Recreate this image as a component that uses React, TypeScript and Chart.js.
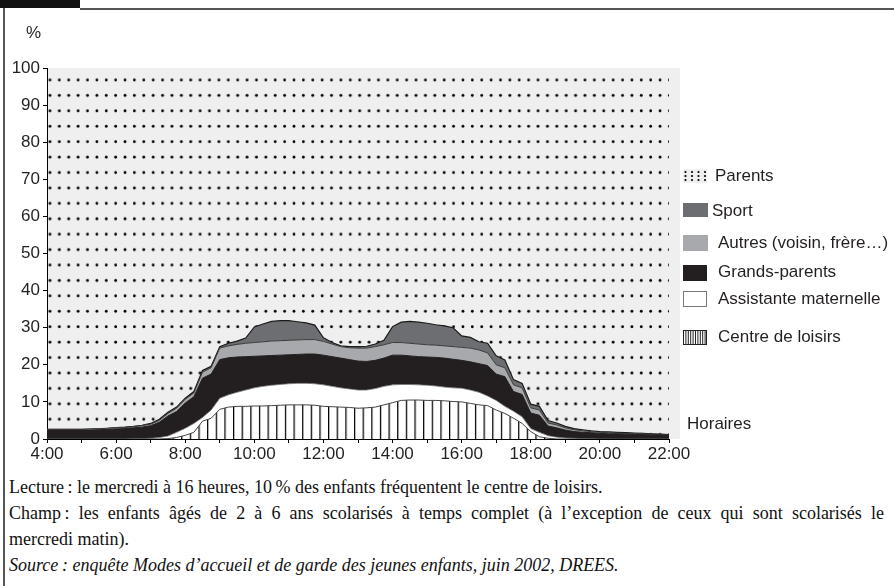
import React, { useEffect, useRef } from 'react';
import { Chart, registerables } from 'chart.js';

Chart.register(...registerables);

// ---- DATA ----
const times = [
  "4:00","4:15","4:30","4:45","5:00","5:15","5:30","5:45","6:00","6:15","6:30","6:45",
  "7:00","7:15","7:30","7:45","8:00","8:15","8:30","8:45","9:00","9:15","9:30","9:45",
  "10:00","10:15","10:30","10:45","11:00","11:15","11:30","11:45","12:00","12:15","12:30","12:45",
  "13:00","13:15","13:30","13:45","14:00","14:15","14:30","14:45","15:00","15:15","15:30","15:45",
  "16:00","16:15","16:30","16:45","17:00","17:15","17:30","17:45","18:00","18:15","18:30","18:45",
  "19:00","19:15","19:30","19:45","20:00","20:15","20:30","20:45","21:00","21:15","21:30","21:45",
  "22:00"
];

const xTickLabels = ["4:00","6:00","8:00","10:00","12:00","14:00","16:00","18:00","20:00","22:00"];

const centreDeLoisirs = [
  0,0,0,0,0,0,0,0,0,0,0,0,
  0,0,0.1,0.4,1.0,1.8,4.8,5.6,8.0,8.6,8.8,8.8,
  8.9,8.9,9.0,9.1,9.2,9.2,9.2,9.1,8.8,8.7,8.6,8.5,
  8.3,8.4,8.6,9.2,9.8,10.4,10.5,10.5,10.4,10.4,10.3,10.1,
  10.0,9.6,9.2,9.0,7.8,6.9,5.6,4.2,2.0,0.6,0.2,0,
  0,0,0,0,0,0,0,0,0,0,0,0,
  0
];

const assistanteMaternelle = [
  0,0,0,0,0,0,0,0,0,0,0.1,0.1,
  0.2,0.4,0.7,1.4,1.9,2.4,1.0,2.2,3.0,3.3,3.8,4.4,
  4.9,5.3,5.5,5.6,5.7,5.8,5.8,5.8,5.8,5.5,5.2,5.0,
  4.9,4.8,5.0,5.0,4.8,4.3,4.2,4.1,4.1,3.9,3.7,3.7,
  3.7,3.6,3.4,2.6,2.6,1.9,1.9,1.8,0.8,1.2,0.7,0.5,
  0.3,0.2,0.1,0.1,0,0,0,0,0,0,0,0,
  0
];

const grandsParents = [
  2.4,2.4,2.4,2.4,2.4,2.4,2.5,2.6,2.7,2.8,2.9,3.1,
  3.4,4.1,5.4,5.6,6.8,7.2,10.6,9.7,10.4,10.0,9.5,9.0,
  8.5,8.2,8.0,7.9,7.8,7.8,7.9,8.0,8.0,8.0,8.0,7.9,
  7.8,7.7,7.6,7.6,8.0,7.9,7.7,7.6,7.6,7.7,7.8,7.7,
  7.5,7.6,7.7,8.2,7.1,8.0,5.3,6.0,4.2,4.6,2.6,2.5,
  2.1,1.8,1.7,1.6,1.5,1.4,1.4,1.3,1.2,1.2,1.1,1.1,
  1.0
];

const autres = [
  0.2,0.2,0.2,0.2,0.2,0.3,0.3,0.3,0.3,0.3,0.3,0.4,
  0.4,0.5,0.7,0.9,1.0,1.0,1.6,1.7,3.1,3.2,3.4,3.6,
  3.7,3.8,3.9,3.9,3.9,3.9,3.9,3.9,3.7,3.4,3.1,3.2,
  3.5,3.6,3.7,3.6,3.4,3.4,3.4,3.4,3.3,3.3,3.3,3.4,
  3.5,3.7,3.7,3.4,2.5,2.4,1.8,1.8,1.4,1.4,0.8,0.8,
  0.6,0.5,0.4,0.3,0.3,0.3,0.2,0.2,0.2,0.2,0.2,0.1,
  0.1
];

const sport = [
  0,0,0,0,0,0,0,0,0.1,0.1,0.1,0.1,
  0.2,0.3,0.3,0.3,0.3,0.4,0.5,0.4,0.4,0.7,0.9,1.4,
  4.2,4.8,5.3,5.4,5.3,4.9,4.5,3.9,1.0,0.4,0.2,0.3,
  0.4,0.5,0.7,1.2,4.3,5.5,5.9,5.9,5.8,5.5,5.4,5.1,
  3.1,2.9,2.2,2.6,2.4,2.1,1.4,1.2,1.0,1.0,0.7,0.5,
  0.4,0.3,0.3,0.2,0.2,0.2,0.2,0.2,0.2,0.1,0.1,0.1,
  0.1
];

// Parents: remainder up to 100 %
const parents = times.map((_, i) =>
  Math.round((100 - centreDeLoisirs[i] - assistanteMaternelle[i] - grandsParents[i] - autres[i] - sport[i]) * 10) / 10
);

const yTickStep = 10;
const legendLabels = [
  "Parents",
  "Sport",
  "Autres (voisin, frère…)",
  "Grands-parents",
  "Assistante maternelle",
  "Centre de loisirs",
];

const SANS = "'Liberation Sans', Arial, Helvetica, sans-serif";
const INK = '#231f20';

function makeDotPattern(): CanvasPattern | string {
  const c = document.createElement('canvas');
  c.width = 28; c.height = 31;
  const g = c.getContext('2d');
  if (!g) return 'transparent';
  g.fillStyle = '#000';
  for (const a of [4.67, 14, 23.33]) {
    for (const b of [7.75, 23.25]) {
      g.beginPath(); g.arc(a, b, 1.4, 0, Math.PI * 2); g.fill();
    }
  }
  const p = g.createPattern(c, 'repeat');
  if (!p) return 'transparent';
  try { p.setTransform(new DOMMatrix([28.16 / 28, 0, 0, 30.84 / 31, -1.72, 10.61])); } catch (e) {}
  return p;
}

function makeHatchPattern(): CanvasPattern | string {
  const c = document.createElement('canvas');
  c.width = 9; c.height = 4;
  const g = c.getContext('2d');
  if (!g) return '#fff';
  g.fillStyle = '#ffffff'; g.fillRect(0, 0, 9, 4);
  g.fillStyle = '#000000'; g.fillRect(0, 0, 1.3, 4);
  const p = g.createPattern(c, 'repeat');
  if (!p) return '#fff';
  try { p.setTransform(new DOMMatrix([0.96, 0, 0, 1, -0.3, 0])); } catch (e) {}
  return p;
}

const bgPlugin = {
  id: 'plotBg',
  beforeDraw(chart: any) {
    const { ctx, chartArea } = chart;
    ctx.save();
    ctx.fillStyle = '#efefef';
    ctx.fillRect(chartArea.left, chartArea.top, chartArea.right - chartArea.left + 11, chartArea.bottom - chartArea.top);
    ctx.restore();
  },
};

const legendPlugin = {
  id: 'customLegend',
  afterDraw(chart: any) {
    const { ctx } = chart;
    ctx.save();
    ctx.font = `17px ${SANS}`;
    ctx.fillStyle = INK;
    ctx.textBaseline = 'middle';
    ctx.textAlign = 'left';
    // "%" and "Horaires"
    ctx.fillText('%', 26, 33);
    ctx.fillText('Horaires', 687, 424);

    const items = [
      { y: 169, h: 14, tx: 715, ty: 176 },
      { y: 203, h: 14, tx: 712, ty: 211 },
      { y: 235, h: 16, tx: 718, ty: 243 },
      { y: 265, h: 16, tx: 718, ty: 272 },
      { y: 291, h: 16, tx: 718, ty: 299 },
      { y: 330, h: 15, tx: 718, ty: 337 },
    ];
    const x0 = 683, w = 24;
    items.forEach((it, k) => {
      if (k === 0) {
        ctx.fillStyle = '#efefef';
        ctx.fillRect(x0, it.y, w, it.h);
        ctx.fillStyle = '#000';
        for (let i = 0; i < 4; i++) for (let j = 0; j < 3; j++) {
          ctx.beginPath(); ctx.arc(x0 + 2.5 + i * 6.5, it.y + 3 + j * 4, 1.1, 0, Math.PI * 2); ctx.fill();
        }
      } else if (k === 1) {
        ctx.fillStyle = '#6d6e71'; ctx.fillRect(x0, it.y, w + 1, it.h);
      } else if (k === 2) {
        ctx.fillStyle = '#a7a9ac'; ctx.fillRect(x0, it.y, w + 1, it.h);
      } else if (k === 3) {
        ctx.fillStyle = '#231f20'; ctx.fillRect(x0, it.y, w, it.h);
      } else if (k === 4) {
        ctx.fillStyle = '#ffffff'; ctx.fillRect(x0, it.y, w, it.h);
        ctx.strokeStyle = '#777'; ctx.lineWidth = 1;
        ctx.strokeRect(x0 + 0.5, it.y + 0.5, w - 1, it.h - 1);
      } else {
        ctx.fillStyle = '#ffffff'; ctx.fillRect(x0, it.y, w, it.h);
        ctx.strokeStyle = '#222'; ctx.lineWidth = 1;
        for (let xx = x0 + 0.5; xx <= x0 + w; xx += 2.4) {
          ctx.beginPath(); ctx.moveTo(xx, it.y); ctx.lineTo(xx, it.y + it.h); ctx.stroke();
        }
        ctx.strokeRect(x0 + 0.5, it.y + 0.5, w - 1, it.h - 1);
      }
      ctx.fillStyle = INK;
      ctx.fillText(legendLabels[k], it.tx, it.ty);
    });
    ctx.restore();
  },
};

export default function App() {
  const ref = useRef<HTMLCanvasElement | null>(null);

  useEffect(() => {
    if (!ref.current) return;
    const dots = makeDotPattern();
    const hatch = makeHatchPattern();
    const base = { pointRadius: 0, pointHoverRadius: 0, tension: 0 };
    const chart = new Chart(ref.current, {
      type: 'line',
      data: {
        labels: times,
        datasets: [
          { ...base, label: legendLabels[5], data: centreDeLoisirs, backgroundColor: hatch as any, borderColor: '#444', borderWidth: 1, fill: 'origin' },
          { ...base, label: legendLabels[4], data: assistanteMaternelle, backgroundColor: '#ffffff', borderColor: '#666', borderWidth: 0.8, fill: '-1' },
          { ...base, label: legendLabels[3], data: grandsParents, backgroundColor: '#231f20', borderColor: '#231f20', borderWidth: 1, fill: '-1' },
          { ...base, label: legendLabels[2], data: autres, backgroundColor: '#a7a9ac', borderColor: '#3a3a3a', borderWidth: 1, fill: '-1' },
          { ...base, label: legendLabels[1], data: sport, backgroundColor: '#6d6e71', borderColor: '#1a1a1a', borderWidth: 1.2, fill: '-1' },
          { ...base, label: legendLabels[0], data: parents, backgroundColor: dots as any, borderColor: 'rgba(0,0,0,0)', borderWidth: 0, fill: '-1' },
        ],
      },
      options: {
        responsive: false,
        animation: false,
        events: [],
        layout: { padding: { left: 0, right: 225, top: 68, bottom: 0 } },
        plugins: { legend: { display: false }, tooltip: { enabled: false } },
        scales: {
          x: {
            type: 'category',
            offset: false,
            grid: {
              display: true,
              drawOnChartArea: false,
              drawTicks: true,
              tickLength: 4,
              color: (c: any) => (times[c.index] && times[c.index].endsWith(':00') ? '#000' : 'rgba(0,0,0,0)'),
            },
            border: { display: true, color: '#000', width: 1 },
            ticks: {
              autoSkip: false,
              maxRotation: 0,
              minRotation: 0,
              padding: 1,
              color: INK,
              font: { family: SANS, size: 17 },
              callback: (_v: any, i: number) => (xTickLabels.includes(times[i]) ? times[i] : ''),
            },
            afterFit: (s: any) => { s.height = 31; },
          },
          y: {
            stacked: true,
            min: 0,
            max: 100,
            grid: { display: true, drawOnChartArea: false, drawTicks: true, tickLength: 4, color: '#000' },
            border: { display: true, color: '#000', width: 1 },
            ticks: { stepSize: yTickStep, padding: 3, color: INK, font: { family: SANS, size: 17 } },
            afterFit: (s: any) => { s.width = 47; },
          },
        },
      },
      plugins: [bgPlugin, legendPlugin],
    } as any);
    return () => chart.destroy();
  }, []);

  const serif = "'Liberation Serif', 'Times New Roman', serif";
  return (
    <div style={{ position: 'absolute', left: 0, top: 0, width: 894, height: 586, background: '#fff', overflow: 'hidden' }}>
      <div style={{ position: 'absolute', left: 0, top: 0, width: 80, height: 8, background: '#111' }} />
      <div style={{ position: 'absolute', left: 80, top: 8, width: 814, height: 2, background: '#555' }} />
      <div style={{ position: 'absolute', left: 3, top: 8, width: 2, height: 578, background: '#555' }} />
      <canvas ref={ref} width={894} height={470} style={{ position: 'absolute', left: 0, top: 0, width: 894, height: 470 }} />
      <div style={{ position: 'absolute', left: 9, top: 474, width: 875, fontFamily: serif, fontSize: 18, lineHeight: '26px', color: '#111' }}>
        <div>Lecture{'\u202F'}: le mercredi à 16 heures, 10{'\u202F'}% des enfants fréquentent le centre de loisirs.</div>
        <div style={{ textAlign: 'justify', textAlignLast: 'justify' as any }}>Champ{'\u202F'}: les enfants âgés de 2 à 6 ans scolarisés à temps complet (à l’exception de ceux qui sont scolarisés le</div>
        <div>mercredi matin).</div>
        <div style={{ fontStyle: 'italic' }}>Source{'\u202F'}: enquête Modes d’accueil et de garde des jeunes enfants, juin 2002, DREES.</div>
      </div>
    </div>
  );
}
